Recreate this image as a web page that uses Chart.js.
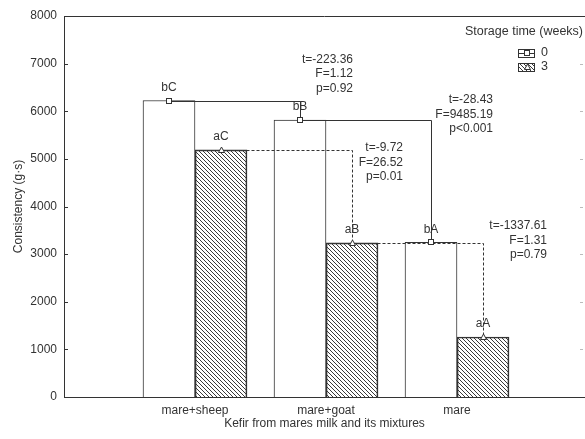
<!DOCTYPE html>
<html>
<head>
<meta charset="utf-8">
<script src="https://cdn.jsdelivr.net/npm/chart.js@4.4.1/dist/chart.umd.min.js"></script>
<style>
	html, body { margin: 0; padding: 0; background: #fff; }
</style>
</head>
<body>
<canvas id="chart" width="585" height="439"></canvas>
<script>
const categories = ['mare+sheep', 'mare+goat', 'mare'];
const week0 = [6225, 5815, 3250];
const week3 = [5190, 3235, 1260];
const week0Letters = ['bC', 'bB', 'bA'];
const week3Letters = ['aC', 'aB', 'aA'];
const week0Stats = [
	['t=-223.36', 'F=1.12', 'p=0.92'],
	['t=-28.43', 'F=9485.19', 'p<0.001']
];
const week3Stats = [
	['t=-9.72', 'F=26.52', 'p=0.01'],
	['t=-1337.61', 'F=1.31', 'p=0.79']
];
const seriesNames = ['0', '3'];
const legendTitle = 'Storage time (weeks)';
const xTitle = 'Kefir from mares milk and its mixtures';
const yTitle = 'Consistency (g·s)';

const INK = '#333';
const FONT = { family: '"Liberation Sans", Arial, sans-serif', size: 12 };
const CSSFONT = '12px "Liberation Sans", Arial, sans-serif';

function hatch() {
	const c = document.createElement('canvas');
	c.width = 4; c.height = 4;
	const g = c.getContext('2d');
	g.strokeStyle = '#3a3a3a';
	g.lineWidth = 1;
	g.beginPath();
	g.moveTo(-1, -1); g.lineTo(5, 5);
	g.moveTo(-1, 3); g.lineTo(1, 5);
	g.moveTo(3, -1); g.lineTo(5, 1);
	g.stroke();
	return g.createPattern(c, 'repeat');
}
const hatchFill = hatch();

// category i sits at x = i + 1 on a linear axis
const asPoints = arr => arr.map((v, i) => ({ x: i + 1, y: v }));

// where each stats block sits, relative to the corner of its connector
const week0StatPos = [{dx: 53, dy: -41}, {dx: 62, dy: -20}];
const week3StatPos = [{dx: 51, dy: -2}, {dx: 64, dy: -17}];

const h = v => Math.round(v) + 0.5;

function square(ctx, p) {
	ctx.fillStyle = '#fff';
	ctx.fillRect(Math.round(p.x) - 3, Math.round(p.y) - 3, 6, 6);
	ctx.strokeRect(Math.round(p.x) - 2.5, Math.round(p.y) - 2.5, 5, 5);
}
function triangle(ctx, p) {
	const x = Math.round(p.x) + 0.5, y = Math.round(p.y);
	ctx.beginPath();
	ctx.moveTo(x - 3, y + 2.5);
	ctx.lineTo(x + 3, y + 2.5);
	ctx.lineTo(x, y - 3);
	ctx.closePath();
	ctx.fillStyle = '#fff';
	ctx.fill();
	ctx.stroke();
}
function step(ctx, a, b) {
	ctx.beginPath();
	ctx.moveTo(h(a.x), h(a.y));
	ctx.lineTo(h(b.x), h(a.y));
	ctx.lineTo(h(b.x), h(b.y));
	ctx.stroke();
}

const overlay = {
	id: 'overlay',
	afterDatasetsDraw(chart) {
		const ctx = chart.ctx;
		const area = chart.chartArea;
		const y = chart.scales.y;
		const pick = meta => meta.data.map(el => ({x: el.x, y: el.y}));
		const p0 = pick(chart.getDatasetMeta(0));
		const p3 = pick(chart.getDatasetMeta(1));
		const right = chart.width - 2;

		ctx.save();
		ctx.strokeStyle = INK;
		ctx.lineWidth = 1;

		// frame top + small ticks
		ctx.beginPath();
		ctx.moveTo(area.left, h(area.top));
		ctx.lineTo(area.right, h(area.top));
		ctx.stroke();
		ctx.beginPath();
		for (let v = 0; v <= 8000; v += 1000) {
			const py = h(y.getPixelForValue(v));
			ctx.moveTo(area.left, py); ctx.lineTo(area.left + 4, py);
		}
		ctx.stroke();
		ctx.beginPath();
		for (let v = 1000; v < 8000; v += 1000) {
			const py = h(y.getPixelForValue(v));
			ctx.moveTo(right - 3, py); ctx.lineTo(right, py);
		}
		ctx.strokeStyle = '#bbb';
		ctx.stroke();
		ctx.strokeStyle = INK;

		// connectors
		for (let i = 0; i < p0.length - 1; i++) step(ctx, p0[i], p0[i + 1]);
		ctx.setLineDash([3, 2]);
		for (let i = 0; i < p3.length - 1; i++) step(ctx, p3[i], p3[i + 1]);
		ctx.setLineDash([]);

		p0.forEach(p => square(ctx, p));
		p3.forEach(p => triangle(ctx, p));

		ctx.font = CSSFONT;
		ctx.fillStyle = INK;
		ctx.textBaseline = 'middle';
		ctx.textAlign = 'center';
		p0.forEach((p, i) => ctx.fillText(week0Letters[i], p.x, p.y - 13));
		p3.forEach((p, i) => ctx.fillText(week3Letters[i], p.x, p.y - 13));

		// stats blocks
		ctx.textAlign = 'right';
		const block = (lines, cx, cy, pos) => {
			lines.forEach((t, k) => ctx.fillText(t, cx + pos.dx, cy + pos.dy + k * 14.5));
		};
		week0Stats.forEach((lines, i) => block(lines, p0[i + 1].x, p0[i].y, week0StatPos[i]));
		week3Stats.forEach((lines, i) => block(lines, p3[i + 1].x, p3[i].y, week3StatPos[i]));

		// legend
		const rx = chart.width - 2;
		ctx.font = '12.5px "Liberation Sans", Arial, sans-serif';
		ctx.fillText(legendTitle, rx, 32);
		const bx = rx - 65;
		const rows = [53, 67];
		chart.data.datasets.forEach((ds, i) => {
			const cy = rows[i];
			ctx.fillStyle = ds.backgroundColor;
			ctx.fillRect(bx, cy - 4, 17, 9);
			ctx.strokeStyle = INK;
			ctx.strokeRect(bx + 0.5, cy - 3.5, 16, 8);
			if (i === 0) {
				ctx.beginPath();
				ctx.moveTo(bx, cy + 0.5); ctx.lineTo(bx + 17, cy + 0.5);
				ctx.stroke();
				square(ctx, {x: bx + 8.5, y: cy});
			} else {
				triangle(ctx, {x: bx + 8.5, y: cy});
			}
			ctx.fillStyle = INK;
			ctx.textAlign = 'left';
			ctx.fillText(seriesNames[i], bx + 23, cy);
		});
		ctx.restore();
	}
};

new Chart(document.getElementById('chart'), {
	type: 'bar',
	data: {
		datasets: [
			{ label: seriesNames[0], data: asPoints(week0), backgroundColor: '#fff', borderColor: INK, borderWidth: 1,
			  barThickness: 52 },
			{ label: seriesNames[1], data: asPoints(week3), backgroundColor: hatchFill, borderColor: INK, borderWidth: 1,
			  barThickness: 52 }
		]
	},
	options: {
		responsive: false,
		animation: false,
		devicePixelRatio: 1,
		layout: { padding: { top: 16, left: 0, right: 0, bottom: 0 } },
		plugins: { legend: { display: false }, tooltip: { enabled: false } },
		scales: {
			x: {
				type: 'linear',
				offset: false,
				min: 0,
				max: 3.977,   // plot runs slightly past the right edge, as in the figure
				grid: { display: false, drawTicks: false },
				border: { color: INK },
				afterBuildTicks(s) { s.ticks = categories.map((c, i) => ({ value: i + 1 })); },
				ticks: { font: FONT, color: INK, padding: 6, maxRotation: 0, autoSkip: false,
				         callback: v => categories[v - 1] ?? '' },
				title: { display: true, text: xTitle, font: FONT, color: INK, padding: { top: 0, bottom: 8 } },
				afterFit(s) { s.height = 42; }
			},
			y: {
				min: 0,
				max: 8000,
				grid: { display: false, drawTicks: false },
				border: { color: INK },
				ticks: { stepSize: 1000, font: FONT, color: INK, padding: 7, callback: v => String(v) },
				title: { display: true, text: yTitle, font: FONT, color: INK, padding: { top: 11, bottom: 0 } },
				afterFit(s) { s.width = 64; }
			}
		}
	},
	plugins: [overlay]
});
</script>
</body>
</html>
